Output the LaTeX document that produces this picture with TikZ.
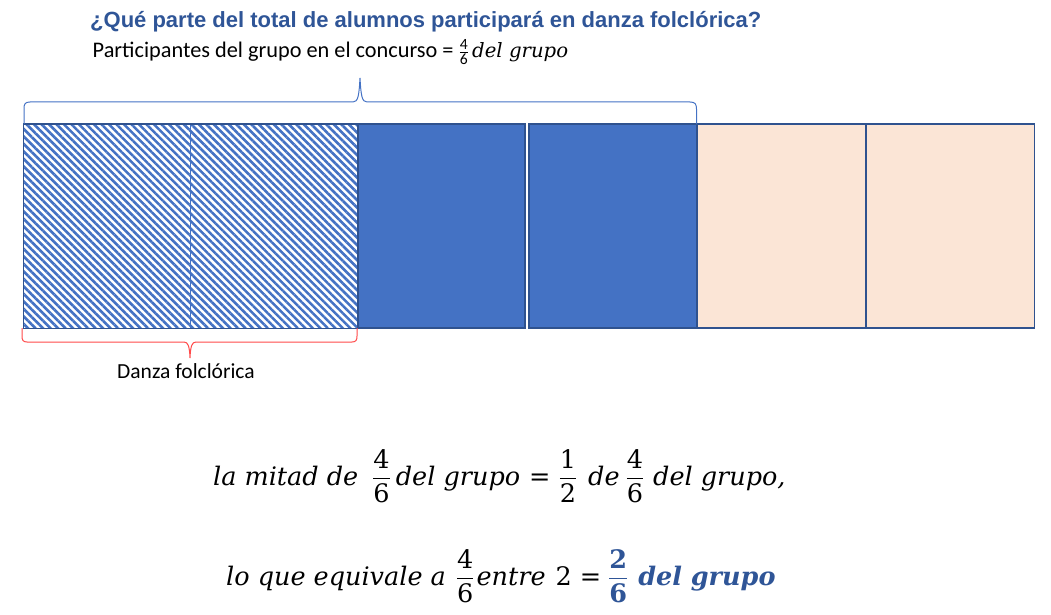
\documentclass[tikz,border=0pt]{standalone}
\usepackage{amsmath}
\usepackage{fontspec}
\usetikzlibrary{patterns.meta}
\newfontfamily\titlefont{Liberation Sans}
\newfontfamily\calfont{Carlito}
\newfontfamily\eqfont{DejaVu Serif}
\definecolor{titleblue}{HTML}{2F5597}
\definecolor{cellblue}{HTML}{4472C4}
\definecolor{edgeblue}{HTML}{2F528F}
\definecolor{peach}{HTML}{FBE5D6}
\definecolor{bracered}{HTML}{FF4A4A}
\newcommand\efrac[2]{\ensuremath{\dfrac{\text{\upshape #1}}{\text{\upshape #2}}}}
\newcommand\gap[1]{\hspace*{#1pt}}
\newcommand\eqsign{{\upshape\mdseries =}}
\tikzset{
  titletext/.style={anchor=base west, inner sep=0pt, text=titleblue, font=\titlefont\bfseries\fontsize{22}{24}\selectfont},
  caltext/.style={anchor=base west, inner sep=0pt, font=\calfont\fontsize{22.3}{26}\selectfont},
  dantext/.style={anchor=base west, inner sep=0pt, font=\calfont\fontsize{21.5}{26}\selectfont},
  smallmath/.style={anchor=base west, inner sep=0pt, font=\eqfont\itshape\fontsize{19.7}{24}\selectfont},
  mathtext/.style={anchor=base west, inner sep=0pt, font=\eqfont\itshape\fontsize{25.5}{30}\selectfont},
  hatchcell/.style={pattern={Lines[angle=-45,distance=5.3pt,line width=2.6pt]}, pattern color=cellblue},
  bluecell/.style={fill=cellblue, draw=edgeblue, line width=1.1pt},
  peachcell/.style={fill=peach, draw=edgeblue, line width=1.3pt},
  topbrace/.style={draw=cellblue, line width=1pt},
  botbrace/.style={draw=bracered, line width=1pt},
}
\begin{document}
\begin{tikzpicture}[x=1pt,y=-1pt]
\useasboundingbox (0,0) rectangle (1051,615);
% title and labels
\node[titletext] (title) at (90,27.5) {¿Qué parte del total de alumnos participará en danza folclórica?};
\node[caltext] (part) at (92.5,57.5) {Participantes del grupo en el concurso = $\frac{\text{4}}{\text{6}}$};
\node[smallmath] (partm) at (472,57.5) {del grupo};
% cells
\path[hatchcell] (23,124) rectangle (358,328);
\draw[cellblue, line width=0.8pt] (190.5,124) -- (190.5,328);
\draw[edgeblue, line width=1pt] (23,124) rectangle (358,328);
\draw[bluecell] (358,124) rectangle (525,328);
\draw[bluecell] (529,124) rectangle (697,328);
\draw[peachcell] (697,124) rectangle (866,328);
\draw[peachcell] (866,124) rectangle (1034.5,328);
% top brace
\draw[topbrace] (24,124) -- (24,109) .. controls (24,104) and (25,102) .. (30,102)
  -- (353,102) .. controls (358,102) and (359,96) .. (360,78)
  .. controls (361,96) and (362,102) .. (367,102)
  -- (690,102) .. controls (695,102) and (696.5,104) .. (696.5,109) -- (696.5,124);
% bottom brace
\draw[botbrace] (22,328) -- (22,336) .. controls (22,340) and (23,342) .. (27,342)
  -- (184,342) .. controls (188,342) and (189.5,346) .. (190,358)
  .. controls (190.5,346) and (192,342) .. (196,342)
  -- (352,342) .. controls (356,342) and (357,340) .. (357,336) -- (357,328);
\node[dantext] (danza) at (117,378) {Danza folclórica};
% equations
\node[mathtext] (eq1) at (213,485) {la mitad de\gap{14}\efrac{4}{6}\gap{5}del grupo\gap{9}\eqsign\gap{8}\efrac{1}{2}\gap{11}de\gap{6}\efrac{4}{6}\gap{9}del grupo,};
\node[mathtext] (eq2) at (226,585) {lo que equivale a\gap{10}\efrac{4}{6}\gap{2}entre\gap{10}{\upshape 2}\gap{8}\eqsign\gap{7}{\color{titleblue}\bfseries\efrac{2}{6}\gap{10}del grupo}};
\end{tikzpicture}
\end{document}
